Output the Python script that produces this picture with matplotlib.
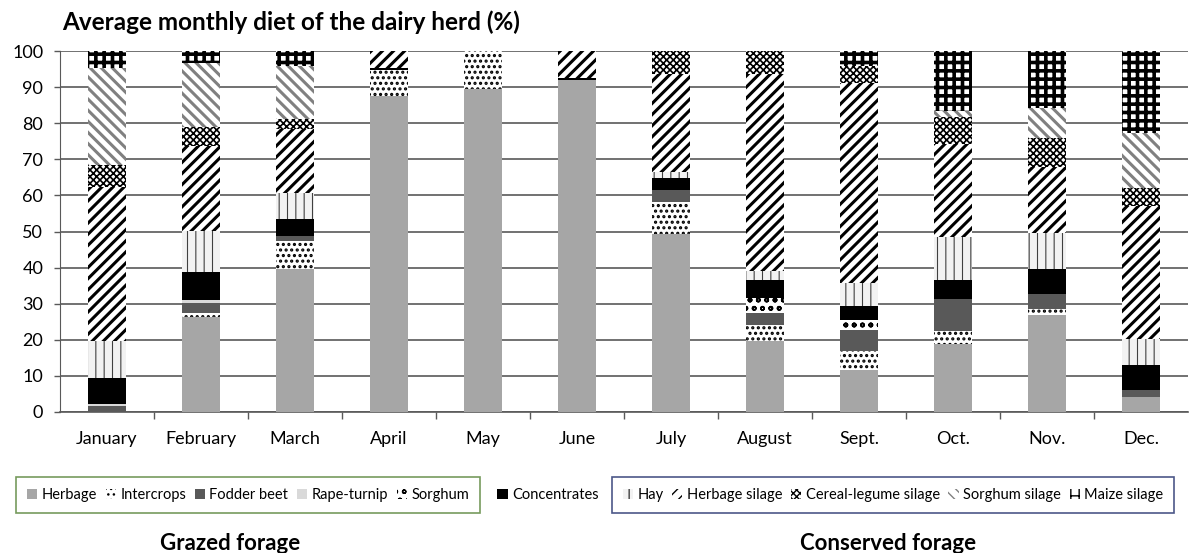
import matplotlib
matplotlib.use('Agg')
import matplotlib.pyplot as plt
from matplotlib.patches import Patch
import numpy as np

months = ['January', 'February', 'March', 'April', 'May', 'June', 'July',
          'August', 'Sept.', 'Oct.', 'Nov.', 'Dec.']

# diet shares (%) per month, bottom to top
herbage = [0, 26.3, 39.5, 87.5, 89.4, 92.1, 49.2, 19.6, 11.5, 18.9, 26.8, 4.2]
intercrops = [0, 1.0, 8.0, 7.2, 10.6, 0, 9.0, 4.4, 5.5, 3.5, 1.8, 0]
fodder_beet = [1.7, 3.0, 1.2, 0, 0, 0, 3.4, 3.4, 5.6, 9.0, 4.2, 1.8]
rape_turnip = [0.4, 0.6, 0, 0, 0, 0, 0, 0, 0, 0, 0, 0]
sorghum = [0, 0, 0, 0, 0, 0, 0, 4.2, 3.0, 0, 0, 0]
concentrates = [7.3, 7.8, 4.9, 0.7, 0, 0.5, 3.3, 4.9, 3.7, 5.3, 6.7, 6.9]
hay = [10.2, 11.4, 7.1, 0, 0, 0, 1.6, 2.5, 6.5, 11.8, 10.1, 7.4]
herbage_silage = [42.7, 23.6, 17.6, 4.6, 0, 7.4, 27.0, 54.5, 55.4, 25.8, 18.2, 36.7]
cereal_legume = [6.0, 5.3, 3.0, 0, 0, 0, 6.5, 6.5, 4.6, 7.5, 8.2, 5.1]
sorghum_silage = [27.1, 17.7, 14.5, 0, 0, 0, 0, 0, 0, 1.6, 8.3, 15.1]
maize_silage = [4.6, 3.3, 4.2, 0, 0, 0, 0, 0, 4.2, 16.6, 15.7, 22.8]

# name, values, facecolor, hatch, hatchcolor, hatch linewidth
series = [
    ('Herbage', herbage, '#a6a6a6', None, '#a6a6a6', 1),
    ('Intercrops', intercrops, 'white', '...', 'black', 1.5),
    ('Fodder beet', fodder_beet, '#595959', None, '#595959', 1),
    ('Rape-turnip', rape_turnip, '#d9d9d9', None, '#d9d9d9', 1),
    ('Sorghum', sorghum, 'white', 'oo', 'black', 1.2),
    ('Concentrates', concentrates, 'black', None, 'black', 1),
    ('Hay', hay, '#f2f2f2', '||', '#404040', 0.8),
    ('Herbage silage', herbage_silage, 'white', '///', 'black', 2.2),
    ('Cereal-legume silage', cereal_legume, 'white', 'xxxxx', 'black', 1.2),
    ('Sorghum silage', sorghum_silage, 'white', '\\\\\\', '#808080', 2.2),
    ('Maize silage', maize_silage, 'white', '++', 'black', 2.6),
]


def set_hlw(p, lw):
    # hatch linewidth per patch
    if hasattr(p, 'set_hatch_linewidth'):
        p.set_hatch_linewidth(lw)
    else:
        p._hatch_linewidth = lw


plt.rcParams['font.family'] = ['Lato', 'DejaVu Sans']

fig = plt.figure(figsize=(11.89, 5.53), dpi=100)
ax = fig.add_axes([60 / 1189, 1 - 412 / 553, 1128 / 1189, 361 / 553])

x = np.arange(len(months))
bottom = np.zeros(len(months))
handles = []
for name, vals, fc, hatch, hc, hlw in series:
    vals = np.array(vals, dtype=float)
    bars = ax.bar(x, vals, width=0.4, bottom=bottom, color=fc, edgecolor=hc,
                  hatch=hatch, linewidth=0, zorder=3)
    for p in bars:
        set_hlw(p, hlw)
    h = Patch(facecolor=fc, edgecolor=hc, hatch=hatch, linewidth=0, label=name)
    set_hlw(h, min(hlw, 1.2))
    handles.append(h)
    bottom += vals

ax.set_xlim(-0.5, 11.5)
ax.set_ylim(0, 100)
ax.set_yticks(np.arange(0, 101, 10))
ax.set_xticks(x)
ax.set_xticklabels(months, fontsize=13)
ax.set_xticks(np.arange(0.5, 11.5, 1), minor=True)
ax.tick_params(axis='x', which='major', length=0, pad=14)
ax.tick_params(axis='x', which='minor', length=5, width=1, color='#595959',
               direction='out')
ax.tick_params(axis='y', length=4, width=1, color='#595959', labelsize=13,
               pad=8)
ax.yaxis.grid(True, color='#595959', linewidth=1.2, zorder=0)
for s in ['top', 'right']:
    ax.spines[s].set_visible(False)
ax.spines['left'].set_color('#595959')
ax.spines['bottom'].set_color('#595959')
ax.spines['bottom'].set_linewidth(1.2)

fig.text(62 / 1189, 1 - 22 / 553, 'Average monthly diet of the dairy herd (%)',
         fontsize=17.5, fontweight='bold', va='center', ha='left')

leg_kw = dict(loc='center', fontsize=10.5, handlelength=0.7, handleheight=0.7,
              handletextpad=0.3, fancybox=False, columnspacing=0.6,
              borderpad=0.75)
leg1 = fig.legend(handles=handles[:5], ncol=5,
                  bbox_to_anchor=(248 / 1189, 1 - 495 / 553),
                  frameon=True, edgecolor='#548235', **leg_kw)
leg1.get_frame().set_linewidth(1.2)
leg2 = fig.legend(handles=handles[5:6],
                  bbox_to_anchor=(548 / 1189, 1 - 495 / 553),
                  frameon=False, **leg_kw)
leg3 = fig.legend(handles=handles[6:], ncol=5,
                  bbox_to_anchor=(893 / 1189, 1 - 495 / 553),
                  frameon=True, edgecolor='#1f2d6b', **leg_kw)
leg3.get_frame().set_linewidth(1.2)

fig.text(230 / 1189, 1 - 543 / 553, 'Grazed forage', fontsize=16,
         fontweight='bold', ha='center', va='center')
fig.text(888 / 1189, 1 - 543 / 553, 'Conserved forage', fontsize=16,
         fontweight='bold', ha='center', va='center')

fig.savefig('out.png', dpi=100)
